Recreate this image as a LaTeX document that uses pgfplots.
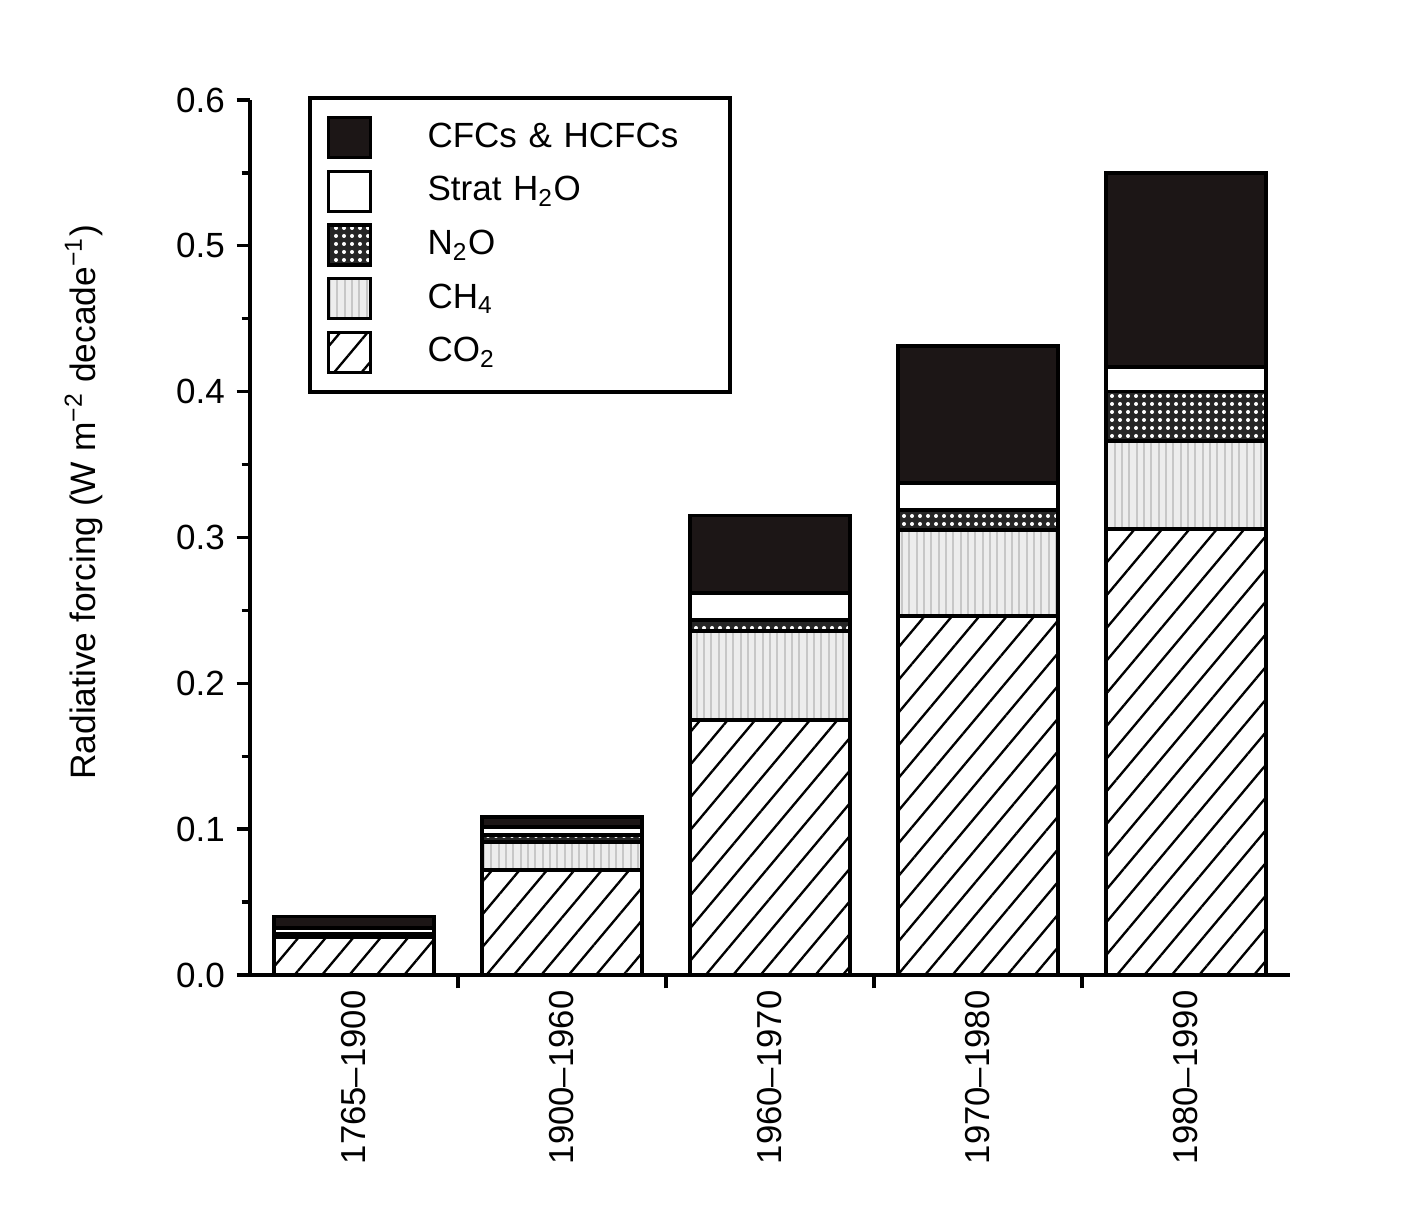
\documentclass[border=0pt]{standalone}
\usepackage{fontspec}
\setmainfont{Liberation Sans}
\usepackage{pgfplots}
\usepackage{pgfplotstable}
\pgfplotsset{compat=1.18}
\usetikzlibrary{patterns.meta}

\definecolor{cfcblack}{RGB}{28,22,22}

% Radiative forcing per decade, by gas and period
\pgfplotstableread{
x co2   ch4    n2o    h2o    cfc
0 0.026 0.0015 0.0005 0.004  0.008
1 0.072 0.019  0.005  0.0055 0.007
2 0.175 0.061  0.0075 0.0185 0.053
3 0.246 0.059  0.014  0.0185 0.094
4 0.306 0.060  0.034  0.017  0.133
}\forcing

\begin{document}
\begin{tikzpicture}
\begin{axis}[
  scale only axis,
  width=312pt, height=262.5pt,
  xmin=-0.5, xmax=4.5,
  ymin=0, ymax=0.6,
  axis x line*=bottom,
  axis y line*=left,
  axis line style={line width=1.2pt},
  ybar stacked,
  bar width=0.77,
  tick align=outside,
  xtick={0.5,1.5,2.5,3.5},
  xticklabels={},
  extra x ticks={0,1,2,3,4},
  extra x tick labels={1765–1900,1900–1960,1960–1970,1970–1980,1980–1990},
  extra x tick style={major tick length=0pt},
  xticklabel style={rotate=90, anchor=east, font=\fontsize{10.4}{12}\selectfont, inner sep=4.5pt},
  x tick style={line width=1pt, black},
  major tick length=4pt,
  minor tick length=2.5pt,
  ytick={0,0.1,...,0.6},
  minor y tick num=1,
  y tick style={line width=1pt, black},
  yticklabel style={font=\fontsize{10.5}{12}\selectfont},
  /pgf/number format/assume math mode=true,
  /pgf/number format/fixed,
  /pgf/number format/fixed zerofill,
  /pgf/number format/precision=1,
  ylabel={Radiative forcing (W m\textsuperscript{−2} decade\textsuperscript{−1})},
  ylabel style={at={(axis description cs:-0.16,0.54)}, anchor=center,
                font=\fontsize{10.6}{12}\selectfont},
  reverse legend,
  legend cell align=left,
  legend style={at={(axis description cs:0.056,1.005)}, anchor=north west,
    draw=black, line width=1.2pt, inner xsep=5pt, inner ysep=5.5pt,
    font=\fontsize{10.5}{12}\selectfont,
    nodes={inner sep=1.6pt},
    row sep=3.1pt,
    /tikz/every odd column/.append style={column sep=15pt},
    /tikz/every even column/.append style={text width=84pt}},
  legend image code/.code={\draw[#1, line width=1pt] (0pt,-6pt) rectangle (12.6pt,6pt);},
  every axis plot/.append style={draw=black, line width=1.1pt},
  clip=false,
]
\addplot[fill=white,
  postaction={pattern={Lines[angle=50,distance=6.3pt,line width=0.7pt]}, pattern color=black}]
  table[x=x, y=co2]{\forcing};
\addlegendentry{CO\textsubscript{2}}
\addplot[fill=black!7,
  postaction={pattern={Lines[angle=90,distance=2.2pt,line width=0.55pt]}, pattern color=black!22}]
  table[x=x, y=ch4]{\forcing};
\addlegendentry{CH\textsubscript{4}}
\addplot[fill=black!85,
  postaction={pattern={Dots[distance=2.4pt,radius=0.6pt]}, pattern color=white}]
  table[x=x, y=n2o]{\forcing};
\addlegendentry{N\textsubscript{2}O}
\addplot[fill=white]
  table[x=x, y=h2o]{\forcing};
\addlegendentry{Strat H\textsubscript{2}O}
\addplot[fill=cfcblack]
  table[x=x, y=cfc]{\forcing};
\addlegendentry{CFCs \& HCFCs}
\end{axis}
\pgfresetboundingbox
\path ([xshift=-75pt,yshift=-75.9pt]current axis.south west)
  rectangle ([xshift=33.3pt,yshift=30pt]current axis.north east);
\end{tikzpicture}
\end{document}
